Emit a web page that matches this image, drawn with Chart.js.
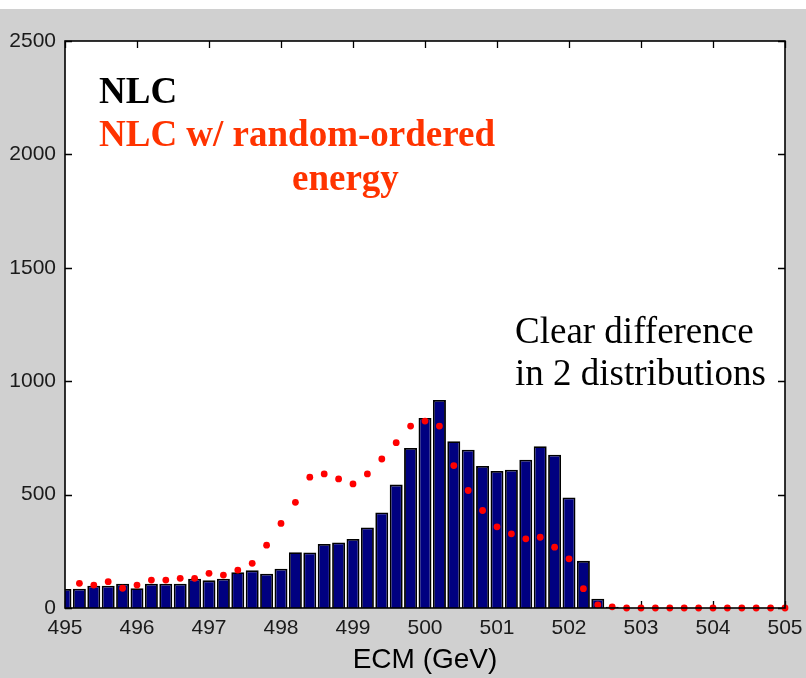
<!DOCTYPE html>
<html lang="en">
<head>
    <meta charset="UTF-8">
    <title>ECM distribution</title>
    <script src="https://cdn.jsdelivr.net/npm/chart.js"></script>
    <style>
        body { margin: 0; background: #d0d0d0; }
    </style>
</head>
<body>
    <canvas id="ecmChart" width="806" height="678"></canvas>
    <script>
        // bin centres (GeV)
        const ecm = [
            495.0, 495.2, 495.4, 495.6, 495.8, 496.0, 496.2, 496.4, 496.6, 496.8,
            497.0, 497.2, 497.4, 497.6, 497.8, 498.0, 498.2, 498.4, 498.6, 498.8,
            499.0, 499.2, 499.4, 499.6, 499.8, 500.0, 500.2, 500.4, 500.6, 500.8,
            501.0, 501.2, 501.4, 501.6, 501.8, 502.0, 502.2, 502.4, 502.6, 502.8,
            503.0, 503.2, 503.4, 503.6, 503.8, 504.0, 504.2, 504.4, 504.6, 504.8,
            505.0
        ];
        // NLC histogram (bars)
        const nlc = [
            84, 85, 98, 98, 107, 87, 107, 107, 107, 129,
            122, 129, 158, 166, 151, 173, 246, 245, 282, 289,
            304, 355, 421, 544, 706, 838, 917, 735, 698, 626,
            604, 610, 654, 713, 676, 487, 208, 41, 5, 0,
            0, 0, 0, 0, 0, 0, 0, 0, 0, 0,
            0
        ];
        // NLC with random-ordered energy (red dots)
        const nlcRandom = [
            null, 109, 101, 116, 87, 101, 123, 123, 131, 131,
            153, 145, 167, 197, 277, 373, 466, 577, 591, 569,
            547, 591, 657, 729, 802, 824, 802, 628, 518, 430,
            358, 327, 305, 312, 268, 217, 85, 14, 5, 0,
            0, 0, 0, 0, 0, 0, 0, 0, 0, 0,
            0
        ];
        const xTicks = [495, 496, 497, 498, 499, 500, 501, 502, 503, 504, 505];
        const yTicks = [0, 500, 1000, 1500, 2000, 2500];

        const tickFont = { family: "'Liberation Sans', Arial, sans-serif", size: 21 };

        // grey figure, white strip on top, white axes box
        const backdrop = {
            id: 'backdrop',
            beforeDraw(chart) {
                const { ctx, chartArea: a } = chart;
                ctx.save();
                ctx.fillStyle = '#d0d0d0';
                ctx.fillRect(0, 0, chart.width, chart.height);
                ctx.fillStyle = '#ffffff';
                ctx.fillRect(0, 0, chart.width, 9);
                ctx.fillRect(a.left, a.top, a.right - a.left, a.bottom - a.top);
                ctx.restore();
            }
        };

        // inward tick marks on all four sides + box frame
        const axesBox = {
            id: 'axesBox',
            beforeDatasetsDraw(chart) {
                const { ctx, chartArea: a, scales } = chart;
                const len = 7;
                ctx.save();
                ctx.strokeStyle = '#000';
                ctx.lineWidth = 1.3;
                ctx.beginPath();
                xTicks.forEach(v => {
                    const px = Math.round(scales.x.getPixelForValue(v)) + 0.5;
                    ctx.moveTo(px, a.top); ctx.lineTo(px, a.top + len);
                    ctx.moveTo(px, a.bottom); ctx.lineTo(px, a.bottom - len);
                });
                yTicks.forEach(v => {
                    const py = Math.round(scales.y.getPixelForValue(v)) + 0.5;
                    ctx.moveTo(a.left, py); ctx.lineTo(a.left + len, py);
                    ctx.moveTo(a.right, py); ctx.lineTo(a.right - len, py);
                });
                ctx.stroke();
                ctx.restore();
            },
            afterDraw(chart) {
                const { ctx, chartArea: a } = chart;
                ctx.save();
                ctx.strokeStyle = '#000';
                ctx.lineWidth = 1.6;
                ctx.strokeRect(a.left, a.top, a.right - a.left, a.bottom - a.top);

                // annotations
                ctx.textBaseline = 'alphabetic';
                ctx.textAlign = 'left';
                ctx.font = "bold 37px 'Liberation Serif', 'Times New Roman', serif";
                ctx.fillStyle = '#000';
                ctx.fillText('NLC', 99, 103);
                ctx.fillStyle = '#ff3300';
                ctx.fillText('NLC w/ random-ordered', 99, 146);
                ctx.fillText('energy', 292, 190);
                ctx.font = "37px 'Liberation Serif', 'Times New Roman', serif";
                ctx.fillStyle = '#000';
                ctx.fillText('Clear difference', 515, 343);
                ctx.fillText('in 2 distributions', 515, 385);
                ctx.restore();
            }
        };

        const ctx = document.getElementById('ecmChart').getContext('2d');
        const ecmChart = new Chart(ctx, {
            type: 'bar',
            data: {
                datasets: [{
                    type: 'scatter',
                    label: 'NLC w/ random-ordered energy',
                    data: ecm.map((x, i) => ({ x: x, y: nlcRandom[i] })),
                    pointRadius: 3.4,
                    pointBackgroundColor: '#ff0000',
                    pointBorderWidth: 0,
                    showLine: false,
                    clip: false,
                    order: 0
                }, {
                    label: 'NLC',
                    data: ecm.map((x, i) => ({ x: x, y: nlc[i] })),
                    backgroundColor: '#000080',
                    borderColor: '#000000',
                    borderWidth: 1.8,
                    barPercentage: 0.9,
                    categoryPercentage: 1.0,
                    clip: 0,
                    order: 1
                }]
            },
            options: {
                responsive: false,
                animation: false,
                layout: { autoPadding: false, padding: { top: 41, right: 21, left: 0, bottom: 0 } },
                plugins: {
                    legend: { display: false },
                    tooltip: { enabled: false }
                },
                scales: {
                    x: {
                        type: 'linear',
                        offset: false,
                        min: 495,
                        max: 505,
                        afterFit: s => { s.height = 70; s.paddingLeft = 0; s.paddingRight = 0; },
                        afterBuildTicks: s => { s.ticks = xTicks.map(v => ({ value: v })); },
                        grid: { display: false, drawTicks: false, offset: false },
                        border: { display: false },
                        ticks: { color: '#1a1a1a', font: tickFont, padding: 8, maxRotation: 0, callback: v => String(v) },
                        title: {
                            display: true,
                            text: 'ECM (GeV)',
                            color: '#000',
                            font: { family: "'Liberation Sans', Arial, sans-serif", size: 28 },
                            padding: { top: 0, bottom: 1 }
                        }
                    },
                    y: {
                        min: 0,
                        max: 2500,
                        afterFit: s => { s.width = 65; s.paddingTop = 0; s.paddingBottom = 0; },
                        afterBuildTicks: s => { s.ticks = yTicks.map(v => ({ value: v })); },
                        grid: { display: false, drawTicks: false },
                        border: { display: false },
                        ticks: { color: '#1a1a1a', font: tickFont, padding: 9, callback: v => String(v) }
                    }
                }
            },
            plugins: [backdrop, axesBox]
        });
    </script>
</body>
</html>
